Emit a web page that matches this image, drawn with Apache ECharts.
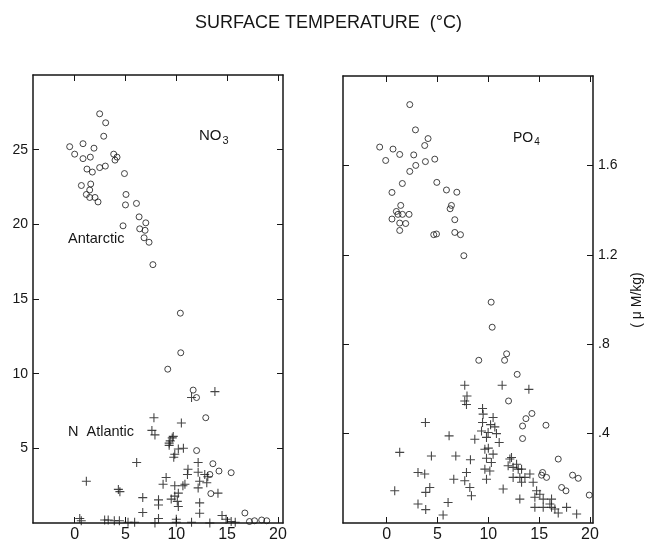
<!DOCTYPE html>
<html><head><meta charset="utf-8">
<script src="https://cdn.jsdelivr.net/npm/echarts@6/dist/echarts.min.js"></script>
<style>html,body{margin:0;padding:0;background:#fff}#c{width:657px;height:540px}</style>
</head><body><div id="c"></div>
<script>
// ---- data ----
const titleText = 'SURFACE TEMPERATURE  (°C)';
const xTickValues = [0, 5, 10, 15, 20];
const no3TickValues = [5, 10, 15, 20, 25];
const po4TickValues = [0.4, 0.8, 1.2, 1.6];

// NO3 (left panel): [temperature, value]
const no3Antarctic = [
  [2.46,27.4],[3.05,26.8],[2.86,25.9],[-0.49,25.2],[0.82,25.4],[1.9,25.1],[0,24.7],[0.82,24.4],
  [1.54,24.5],[3.84,24.7],[4.17,24.5],[3.97,24.3],[4.9,23.4],[1.21,23.7],[1.74,23.5],[2.46,23.8],
  [3.02,23.9],[0.66,22.6],[1.58,22.7],[1.48,22.3],[1.15,22.0],[1.48,21.8],[2.0,21.8],[2.3,21.5],
  [5.05,22.0],[5.0,21.3],[6.08,21.4],[6.34,20.5],[7.0,20.1],[4.76,19.9],[6.4,19.7],[6.93,19.6],
  [6.83,19.1],[7.32,18.8],[7.7,17.3],[10.4,14.05],[10.44,11.4],[9.16,10.3],[11.66,8.9],[11.99,8.4],
  [12.9,7.05],[12.0,4.85],[13.6,3.97],[14.2,3.48],[15.4,3.37],[13.3,3.25],[13.4,1.97],[16.75,0.67],
  [17.2,0.1],[17.7,0.15],[18.4,0.2],[18.9,0.15]
];
const no3NAtlantic = [
  [7.6,6.2],[7.9,5.9],[13.8,8.8],[11.5,8.4],[7.8,7.05],[10.5,6.7],[9.6,5.7],[9.3,5.35],[9.7,5.8],
  [9.4,5.5],[9.3,5.2],[10.2,4.95],[10.7,5.0],[9.85,4.6],[9.75,4.4],[6.1,4.05],[1.15,2.8],[4.3,2.25],
  [4.45,2.1],[9.0,3.05],[8.7,2.6],[6.7,1.7],[8.25,1.55],[8.25,1.2],[6.7,0.7],[8.25,0.3],[12.15,4.05],
  [11.15,3.6],[11.1,3.25],[12.15,3.4],[12.8,3.25],[13.1,3.1],[12.3,2.8],[13.0,2.7],[12.15,2.35],
  [14.1,2.0],[9.85,2.5],[10.65,2.5],[10.85,2.6],[10.2,2.0],[9.85,1.8],[9.5,1.6],[10.1,1.45],[10.2,1.1],
  [12.3,1.35],[12.3,0.65],[14.5,0.5],[14.9,0.25],[15.4,0.1],[15.8,0.05],[10.0,0.25],[10.0,0.05],
  [11.5,0.05],[13.3,0.0],[0.65,0.15],[0.5,0.3],[2.95,0.2],[3.3,0.2],[3.9,0.15],[4.4,0.15],[5.25,0.05],
  [5.9,0.05],[7.9,0.0]
];

// PO4 (right panel): [temperature, value]
const po4Antarctic = [
  [2.27,1.872],[2.83,1.759],[4.07,1.72],[3.74,1.689],[-0.69,1.682],[0.62,1.673],[1.28,1.649],[2.66,1.647],
  [-0.1,1.622],[4.73,1.628],[3.81,1.617],[2.86,1.6],[2.27,1.573],[1.54,1.519],[4.93,1.524],[5.88,1.49],
  [6.9,1.48],[0.52,1.479],[1.38,1.421],[6.37,1.421],[6.24,1.406],[0.95,1.394],[1.55,1.381],[2.2,1.381],
  [1.11,1.381],[0.52,1.36],[1.28,1.342],[1.87,1.34],[1.28,1.309],[6.7,1.357],[6.7,1.3],[7.26,1.29],
  [4.63,1.29],[4.9,1.293],[7.59,1.196],
  [10.28,0.988],[10.38,0.876],[11.8,0.757],[11.6,0.728],[9.06,0.728],[12.84,0.665],[11.99,0.546],
  [14.29,0.49],[13.7,0.467],[13.37,0.434],[15.67,0.4375],[13.37,0.378],[16.88,0.286],[15.34,0.226],
  [15.24,0.214],[15.73,0.204],[17.21,0.159],[17.64,0.144],[18.29,0.214],[18.85,0.2],[19.93,0.125]
];
const po4NAtlantic = [
  [7.68,0.616],[7.9,0.568],[7.68,0.546],[7.85,0.53],[11.36,0.616],[13.99,0.598],[3.81,0.45],[6.14,0.39],
  [9.43,0.512],[9.49,0.487],[10.47,0.472],[9.43,0.45],[10.22,0.44],[10.64,0.43],[9.33,0.412],[9.98,0.405],
  [10.8,0.40],[8.67,0.375],[11.07,0.36],[9.82,0.383],[10.0,0.335],
  [1.28,0.316],[4.4,0.3],[6.8,0.3],[8.24,0.283],[9.66,0.33],[9.82,0.29],[10.47,0.308],[10.3,0.271],
  [9.66,0.241],[10.15,0.233],[9.82,0.196],[3.08,0.226],[3.74,0.219],[6.6,0.196],[7.85,0.226],[7.68,0.189],
  [8.18,0.159],[8.34,0.122],[0.79,0.144],[4.24,0.159],[3.84,0.137],[3.08,0.085],[3.84,0.06],[6.04,0.092],
  [5.55,0.036],
  [12.28,0.293],[12.78,0.263],[13.27,0.241],[12.44,0.204],[13.1,0.204],[13.6,0.204],[14.09,0.219],
  [13.27,0.182],[14.41,0.182],[14.75,0.144],[15.07,0.129],[14.58,0.115],[15.4,0.107],[16.22,0.107],
  [16.06,0.085],[16.55,0.0625],[14.58,0.07],[15.4,0.07],[16.22,0.07],[16.88,0.045],[17.7,0.07],
  [18.69,0.04],[13.1,0.107],[11.46,0.152],[12.12,0.286],[11.95,0.256],[12.44,0.249],[12.94,0.241]
];

// ---- chart ----
const INK = '#161616';
const FONT = "'Liberation Sans Narrow', 'Liberation Sans', Arial, sans-serif";
const crossPath = 'path://M4.4,0H5.6V10H4.4ZM0,4.4H10V5.6H0Z';

function xAx(grid, pos, min, max, labels) {
  return {
    type: 'value', gridIndex: grid, position: pos, min: min, max: max,
    splitLine: {show: false},
    axisLine: {show: true, onZero: false, lineStyle: {color: INK, width: 1.5}},
    axisTick: {show: true, inside: true, length: 6, customValues: xTickValues, lineStyle: {color: INK, width: 1}},
    axisLabel: {show: labels, customValues: xTickValues, color: INK, fontSize: 16, fontFamily: FONT, margin: 4}
  };
}
function yAx(grid, pos, min, max, ticks, labels, fmt) {
  return {
    type: 'value', gridIndex: grid, position: pos, min: min, max: max,
    splitLine: {show: false},
    axisLine: {show: true, onZero: false, lineStyle: {color: INK, width: 1.5}},
    axisTick: {show: true, inside: true, length: 6, customValues: ticks, lineStyle: {color: INK, width: 1}},
    axisLabel: {show: labels, customValues: ticks, color: INK, fontSize: 14, fontFamily: FONT, margin: 5, formatter: fmt}
  };
}

const chart = echarts.init(document.getElementById('c'), null, {renderer: 'canvas'});
chart.setOption({
  backgroundColor: '#fff',
  animation: false,
  title: {text: titleText, left: 'center', top: 9, textStyle: {fontSize: 18, fontWeight: 'normal', color: INK, fontFamily: FONT}},
  grid: [
    {left: 33, top: 75, width: 250, height: 448, containLabel: false, outerBoundsMode: 'none'},
    {left: 343, top: 76, width: 250, height: 447, containLabel: false, outerBoundsMode: 'none'}
  ],
  xAxis: [
    xAx(0, 'bottom', -4.1, 20.5, true),
    xAx(0, 'top', -4.1, 20.5, false),
    xAx(1, 'bottom', -4.3, 20.3, true),
    xAx(1, 'top', -4.3, 20.3, false)
  ],
  yAxis: [
    yAx(0, 'left', 0, 30, no3TickValues, true, v => String(v)),
    yAx(0, 'right', 0, 30, no3TickValues, false, v => String(v)),
    yAx(1, 'left', 0, 2.0, po4TickValues, false, v => String(v)),
    yAx(1, 'right', 0, 2.0, po4TickValues, true, v => (+v).toFixed(1).replace(/^0/, ''))
  ],
  series: [
    {type: 'scatter', name: 'NO3 Antarctic', xAxisIndex: 0, yAxisIndex: 0, data: no3Antarctic,
      symbol: 'circle', symbolSize: 6, itemStyle: {color: 'rgba(0,0,0,0)', borderColor: INK, borderWidth: 1}},
    {type: 'scatter', name: 'NO3 N Atlantic', xAxisIndex: 0, yAxisIndex: 0, data: no3NAtlantic,
      symbol: crossPath, symbolSize: 9, itemStyle: {color: INK}},
    {type: 'scatter', name: 'PO4 Antarctic', xAxisIndex: 2, yAxisIndex: 2, data: po4Antarctic,
      symbol: 'circle', symbolSize: 6, itemStyle: {color: 'rgba(0,0,0,0)', borderColor: INK, borderWidth: 1}},
    {type: 'scatter', name: 'PO4 N Atlantic', xAxisIndex: 2, yAxisIndex: 2, data: po4NAtlantic,
      symbol: crossPath, symbolSize: 9, itemStyle: {color: INK}}
  ],
  graphic: [
    {type: 'text', left: 199, top: 128, style: {text: '{a|NO}{s|3}', fill: INK, rich: {
      a: {fontSize: 15, fontFamily: FONT, fill: INK}, s: {fontSize: 11, fontFamily: FONT, fill: INK, padding: [10, 0, 0, 1]}}}},
    {type: 'text', left: 68, top: 231, style: {text: 'Antarctic', fontSize: 14.5, fontFamily: FONT, fill: INK}},
    {type: 'text', left: 68, top: 424, style: {text: 'N  Atlantic', fontSize: 14.5, fontFamily: FONT, fill: INK}},
    {type: 'text', left: 513, top: 131, style: {text: '{a|PO}{s|4}', fill: INK, rich: {
      a: {fontSize: 14, fontFamily: FONT, fill: INK}, s: {fontSize: 10, fontFamily: FONT, fill: INK, padding: [9, 0, 0, 1]}}}},
    {type: 'text', x: 637, y: 300, rotation: Math.PI / 2,
      style: {text: '( μ M/kg)', fontSize: 14, fontFamily: FONT, fill: INK, align: 'center', verticalAlign: 'middle'}}
  ]
});
</script>
</body></html>
